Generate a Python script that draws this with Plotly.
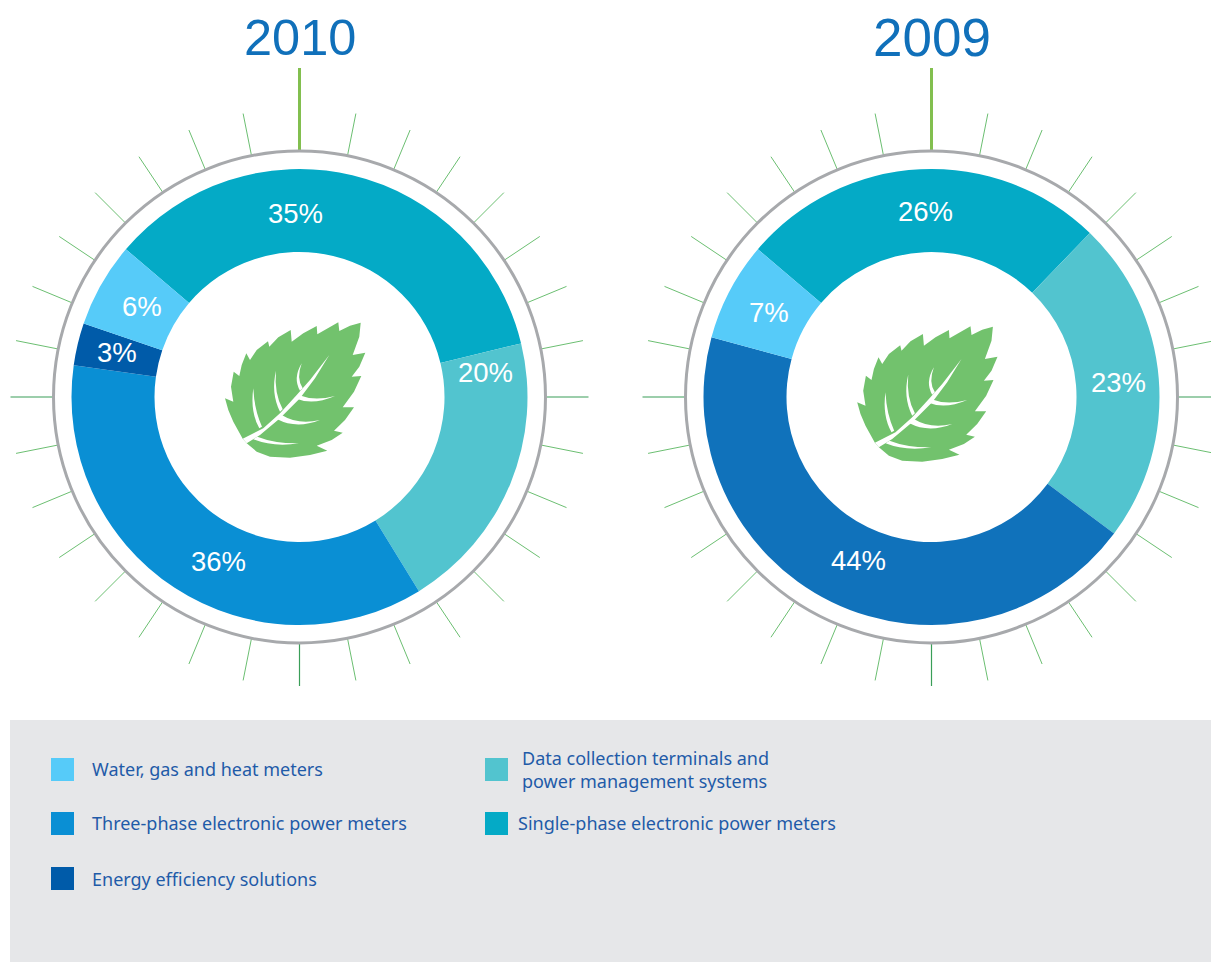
import numpy as np
import plotly.graph_objects as go

WIDTH, HEIGHT = 1211, 962

# Share of revenue by product line, per year
YEARS = ["2010", "2009"]
YEAR_SIZES = [50.5, 53]
SEGMENTS_2010 = ["Single-phase", "Data collection", "Three-phase", "Energy efficiency", "Water, gas and heat"]
VALUES_2010 = [35, 20, 36, 3, 6]
COLORS_2010 = ["#04AAC6", "#52C4CF", "#0A8FD4", "#005BA9", "#56CBF9"]
SEGMENTS_2009 = ["Single-phase", "Data collection", "Three-phase", "Water, gas and heat"]
VALUES_2009 = [26, 23, 44, 7]
COLORS_2009 = ["#04AAC6", "#52C4CF", "#1072BB", "#56CBF9"]

# Legend entries: label, swatch colour, swatch left, swatch top, text left, text middle
LEGEND_LABELS = [
    "Water, gas and heat meters",
    "Three-phase electronic power meters",
    "Energy efficiency solutions",
    "Data collection terminals and<br>power management systems",
    "Single-phase electronic power meters",
]
LEGEND_COLORS = ["#56CBF9", "#0A8FD4", "#005BA9", "#52C4CF", "#04AAC6"]
LEGEND_SWATCH_X = [51, 51, 51, 485, 485]
LEGEND_SWATCH_Y = [758, 812, 867, 758, 812]
LEGEND_TEXT_X = [89.5, 89.5, 89.5, 520, 515.5]
LEGEND_TEXT_Y = [768.5, 822.5, 878.5, 769.5, 822.5]

# Donut geometry, in page pixels
CENTERS = [(299.5, 397.0), (931.5, 397.0)]
R_OUTER, R_INNER, R_RING, R_TICK, R_TOP_TICK = 228, 145, 246, 289, 329
ROTATION = 310.4
LABEL_POS_2010 = [(295.5, 213), (485, 372), (218.5, 561), (116.5, 352), (142, 306)]
LABEL_POS_2009 = [(925, 211), (1118, 382), (858, 560), (769, 312)]
TITLE_Y = 37

BLUE_TEXT = "#1070BA"
LEGEND_TEXT = "#1F5BA8"
GRID_GREEN = "#6CBF72"
TOP_GREEN = "#82BF4F"
CARDINAL_GREEN = "#3A9E58"
RING_GREY = "#A7A9AC"
PANEL_GREY = "#E6E7E9"
LEAF_GREEN = "#72C26D"

# Leaf icon, in pixels relative to the first donut's top-left crop
LEAF_OUTLINE = [
    (482, 68), (478, 110), (458, 165), (496, 158), (478, 200), (455, 230), (484, 228),
    (462, 275), (428, 322), (462, 322), (435, 360), (402, 392), (428, 398), (395, 420),
    (350, 437), (382, 452), (330, 465), (270, 473), (210, 470), (170, 455), (140, 430),
    (128, 416), (100, 365), (85, 330), (75, 295), (100, 305), (93, 260), (101, 215),
    (118, 228), (125, 195), (139, 160), (150, 180), (170, 150), (204, 124), (208, 140),
    (235, 112), (272, 90), (275, 125), (310, 100), (350, 78), (352, 103), (415, 67),
    (418, 93), (450, 77),
]
LEAF_MIDRIB = [
    (388, 165), (330, 240), (290, 285), (240, 340), (190, 385), (128, 416), (140, 430),
    (180, 405), (240, 355), (300, 295), (345, 235),
]
# Side veins: base point, control, tip, control, second base point
LEAF_VEINS = [
    ((178, 385), (150, 335), (160, 265), (163, 330), (186, 380)),
    ((240, 335), (212, 280), (228, 212), (222, 280), (248, 328)),
    ((300, 272), (278, 235), (305, 190), (288, 235), (308, 265)),
    ((292, 297), (340, 316), (405, 288), (345, 304), (303, 287)),
    ((232, 358), (290, 388), (360, 360), (295, 376), (245, 345)),
    ((160, 418), (220, 442), (297, 430), (225, 431), (172, 410)),
]
LEAF_OFFSETS = [(0, 0), (632.2, 4)]


def leaf_point(p, offset):
    return 200 + p[0] / 3 + offset[0], 300 + p[1] / 3 + offset[1]


def polygon_path(points, offset):
    coords = [leaf_point(p, offset) for p in points]
    return "M " + " L ".join(f"{x:.1f},{y:.1f}" for x, y in coords) + " Z"


def vein_path(vein, offset):
    a, b, c, d, e = [leaf_point(p, offset) for p in vein]
    return (f"M {a[0]:.1f},{a[1]:.1f} Q {b[0]:.1f},{b[1]:.1f} {c[0]:.1f},{c[1]:.1f} "
            f"Q {d[0]:.1f},{d[1]:.1f} {e[0]:.1f},{e[1]:.1f} Z")


def donut(values, labels, colors, center):
    cx, cy = center
    return go.Pie(
        values=values, labels=labels, hole=R_INNER / R_OUTER, sort=False, direction="clockwise",
        rotation=ROTATION, textinfo="none", showlegend=False,
        marker=dict(colors=colors, line=dict(width=0)),
        domain=dict(
            x=[(cx - R_OUTER) / WIDTH, (cx + R_OUTER) / WIDTH],
            y=[1 - (cy + R_OUTER) / HEIGHT, 1 - (cy - R_OUTER) / HEIGHT],
        ),
    )


def tick_shape(cx, cy, angle, r1, r2, color, width):
    a = np.radians(angle)
    return dict(
        type="line", xref="x", yref="y", layer="below",
        x0=cx + r1 * np.sin(a), y0=cy - r1 * np.cos(a),
        x1=cx + r2 * np.sin(a), y1=cy - r2 * np.cos(a),
        line=dict(color=color, width=width),
    )


fig = go.Figure()
fig.add_trace(donut(VALUES_2010, SEGMENTS_2010, COLORS_2010, CENTERS[0]))
fig.add_trace(donut(VALUES_2009, SEGMENTS_2009, COLORS_2009, CENTERS[1]))
# Invisible point keeps the page-pixel cartesian axes alive for the shapes
fig.add_trace(go.Scatter(x=[0], y=[0], mode="markers", marker=dict(opacity=0), showlegend=False, hoverinfo="skip"))

shapes = [dict(type="rect", xref="x", yref="y", layer="below", x0=10, y0=720, x1=WIDTH, y1=HEIGHT,
               fillcolor=PANEL_GREY, line=dict(width=0))]

for i, (cx, cy) in enumerate(CENTERS):
    for step in range(32):
        angle = step * 11.25
        if step == 0:
            shapes.append(tick_shape(cx, cy, angle, R_RING, R_TOP_TICK, TOP_GREEN, 3))
        elif step in (8, 16, 24):
            shapes.append(tick_shape(cx, cy, angle, R_RING, R_TICK, CARDINAL_GREEN, 1.2))
        else:
            shapes.append(tick_shape(cx, cy, angle, R_RING, R_TICK, GRID_GREEN, 1))
    shapes.append(dict(type="circle", xref="x", yref="y", layer="below",
                       x0=cx - R_RING, y0=cy - R_RING, x1=cx + R_RING, y1=cy + R_RING,
                       fillcolor="white", line=dict(color=RING_GREY, width=3)))
    offset = LEAF_OFFSETS[i]
    shapes.append(dict(type="path", xref="x", yref="y", layer="above", path=polygon_path(LEAF_OUTLINE, offset),
                       fillcolor=LEAF_GREEN, line=dict(width=0)))
    shapes.append(dict(type="path", xref="x", yref="y", layer="above", path=polygon_path(LEAF_MIDRIB, offset),
                       fillcolor="white", line=dict(width=0)))
    for vein in LEAF_VEINS:
        shapes.append(dict(type="path", xref="x", yref="y", layer="above", path=vein_path(vein, offset),
                           fillcolor="white", line=dict(width=0)))

for x, y, color in zip(LEGEND_SWATCH_X, LEGEND_SWATCH_Y, LEGEND_COLORS):
    shapes.append(dict(type="rect", xref="x", yref="y", layer="below", x0=x, y0=y, x1=x + 23, y1=y + 23,
                       fillcolor=color, line=dict(width=0)))

annotations = []
for (cx, _), year, size in zip(CENTERS, YEARS, YEAR_SIZES):
    annotations.append(dict(x=cx, y=TITLE_Y, xref="x", yref="y", text=year, showarrow=False,
                            font=dict(family="Liberation Sans", size=size, color=BLUE_TEXT)))
for values, positions in ((VALUES_2010, LABEL_POS_2010), (VALUES_2009, LABEL_POS_2009)):
    for value, (x, y) in zip(values, positions):
        annotations.append(dict(x=x, y=y, xref="x", yref="y", text=f"{value}%", showarrow=False,
                                font=dict(family="Liberation Sans", size=27.5, color="white")))
for label, x, y in zip(LEGEND_LABELS, LEGEND_TEXT_X, LEGEND_TEXT_Y):
    annotations.append(dict(x=x, y=y, xref="x", yref="y", text=label, showarrow=False, xanchor="left", align="left",
                            font=dict(family="Noto Sans", size=18, color=LEGEND_TEXT)))

fig.update_layout(
    width=WIDTH, height=HEIGHT, margin=dict(l=0, r=0, t=0, b=0),
    paper_bgcolor="white", plot_bgcolor="white",
    xaxis=dict(range=[0, WIDTH], visible=False, domain=[0, 1], fixedrange=True),
    yaxis=dict(range=[HEIGHT, 0], visible=False, domain=[0, 1], fixedrange=True),
    shapes=shapes, annotations=annotations,
)

fig.write_html("out.html", config=dict(displayModeBar=False))
